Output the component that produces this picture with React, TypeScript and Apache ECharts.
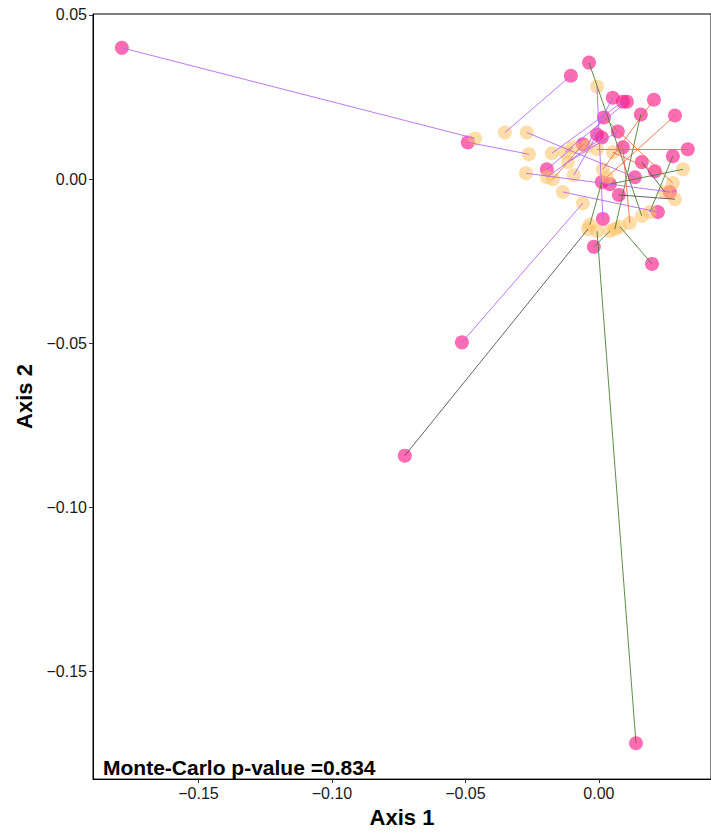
import React, { useEffect, useRef } from "react";
import * as echarts from "echarts";

// Pink (first configuration) coordinates
const pinkX = [-0.1787, -0.0491, -0.0105, -0.0037, 0.0015, 0.0090, 0.0105, 0.0052, 0.0206, 0.0285,
  0.0157, 0.0199, -0.0019, 0.0139, -0.0727, -0.0513, 0.0333, 0.0019, 0.0161, 0.0277,
  0.0041, -0.0195, -0.0060, 0.0135, 0.0266, 0.0221, -0.0007, 0.0090, 0.0071, 0.0011,
  0.0210, 0.0075, 0.0011];
const pinkY = [0.0400, 0.0112, 0.0315, 0.0355, -0.0121, 0.0236, 0.0236, 0.0248, 0.0242, 0.0194,
  0.0197, -0.0258, -0.0206, -0.1718, -0.0842, -0.0497, 0.0091, 0.0188, 0.0052, 0.0070,
  -0.0015, 0.0030, 0.0106, 0.0006, -0.0039, -0.0100, 0.0136, 0.0097, 0.0145, 0.0127,
  0.0024, -0.0048, -0.0009];
// Yellow (second configuration) coordinates
const yellowX = [-0.0464, -0.0262, -0.0352, 0.0161, -0.0007, -0.0176, -0.0127, -0.0045, 0.0015, 0.0030,
  0.0060, 0.0079, 0.0041, -0.0007, -0.0041, -0.0060, -0.0007, 0.0277, 0.0247, 0.0191,
  0.0315, -0.0097, -0.0172, -0.0270, -0.0273, -0.0135, -0.0094, 0.0116, -0.0116, -0.0195,
  0.0052, 0.0285, -0.0034];
const yellowY = [0.0124, 0.0076, 0.0142, -0.0112, 0.0282, 0.0079, 0.0082, 0.0100, 0.0030, 0.0006,
  -0.0152, -0.0145, -0.0158, -0.0158, -0.0152, -0.0073, 0.0091, -0.0012, -0.0039, -0.0100,
  0.0030, 0.0097, 0.0000, 0.0142, 0.0018, -0.0039, 0.0012, -0.0133, 0.0052, 0.0006,
  0.0082, -0.0061, -0.0139];
// Group of each pair (colour of the connecting line)
const pairGroup = ["A", "A", "A", "C", "A", "A", "A", "A", "D", "D",
  "C", "C", "C", "C", "B", "A", "A", "D", "B", "C",
  "C", "A", "D", "A", "A", "A", "A", "D", "A", "A",
  "D", "B", "C"];
const groupColors: Record<string, string> = {
  A: "#b061f5",
  B: "#4a4a4a",
  C: "#3f7a2a",
  D: "#f0643c",
};
const xTicks = [-0.15, -0.1, -0.05, 0];
const yTicks = [-0.15, -0.1, -0.05, 0, 0.05];
const pValueText = "Monte-Carlo p-value =0.834";

const fmt = (v: number) => (v < 0 ? "\u2212" : "") + Math.abs(v).toFixed(2);

export default function App() {
  const ref = useRef<HTMLDivElement>(null);
  useEffect(() => {
    if (!ref.current) return;
    const chart = echarts.init(ref.current, null, { renderer: "svg" });
    const pink = pinkX.map((x, i) => [x, pinkY[i]]);
    const yellow = yellowX.map((x, i) => [x, yellowY[i]]);
    const links = pairGroup.map((g, i) => ({
      coords: [pink[i], yellow[i]],
      lineStyle: { color: groupColors[g] },
    }));
    const font = "'Liberation Sans', Arial, Helvetica, sans-serif";
    chart.setOption({
      animation: false,
      grid: { left: 93, top: 14, right: -2, bottom: 50, show: true, borderColor: "#000", borderWidth: 1 },
      xAxis: {
        type: "value",
        min: -0.1895,
        max: 0.042,
        splitLine: { show: false },
        axisLine: { show: true, onZero: false, lineStyle: { color: "#000", width: 1 } },
        axisTick: { show: true, length: 4, lineStyle: { color: "#333" }, customValues: xTicks },
        axisLabel: { customValues: xTicks, formatter: fmt, color: "#1a1a1a", fontSize: 16, fontFamily: font, margin: 6 },
        name: "Axis 1",
        nameLocation: "middle",
        nameGap: 23,
        nameTextStyle: { fontWeight: "bold", fontSize: 22, color: "#000", fontFamily: font },
      },
      yAxis: {
        type: "value",
        min: -0.1827,
        max: 0.0503,
        splitLine: { show: false },
        axisLine: { show: true, onZero: false, lineStyle: { color: "#000", width: 1 } },
        axisTick: { show: true, length: 4, lineStyle: { color: "#333" }, customValues: yTicks },
        axisLabel: { customValues: yTicks, formatter: fmt, color: "#1a1a1a", fontSize: 16, fontFamily: font, margin: 6 },
        name: "Axis 2",
        nameLocation: "middle",
        nameGap: 57,
        nameTextStyle: { fontWeight: "bold", fontSize: 22, color: "#000", fontFamily: font },
      },
      series: [
        {
          type: "scatter",
          data: pink,
          symbolSize: 14,
          itemStyle: { color: "rgba(248, 25, 135, 0.8)" },
          z: 2,
        },
        {
          type: "scatter",
          data: yellow,
          symbolSize: 14,
          itemStyle: { color: "rgba(255, 195, 100, 0.7)" },
          z: 3,
        },
        {
          type: "lines",
          coordinateSystem: "cartesian2d",
          data: links,
          lineStyle: { width: 1, opacity: 0.85 },
          z: 4,
        },
      ],
      graphic: [
        {
          type: "text",
          left: 103,
          top: 757,
          style: { text: pValueText, fontWeight: "bold", fontSize: 21, fill: "#000", fontFamily: font },
        },
      ],
    });
    return () => chart.dispose();
  }, []);
  return <div ref={ref} style={{ width: 711, height: 833, position: "absolute", left: 0, top: 0 }} />;
}
